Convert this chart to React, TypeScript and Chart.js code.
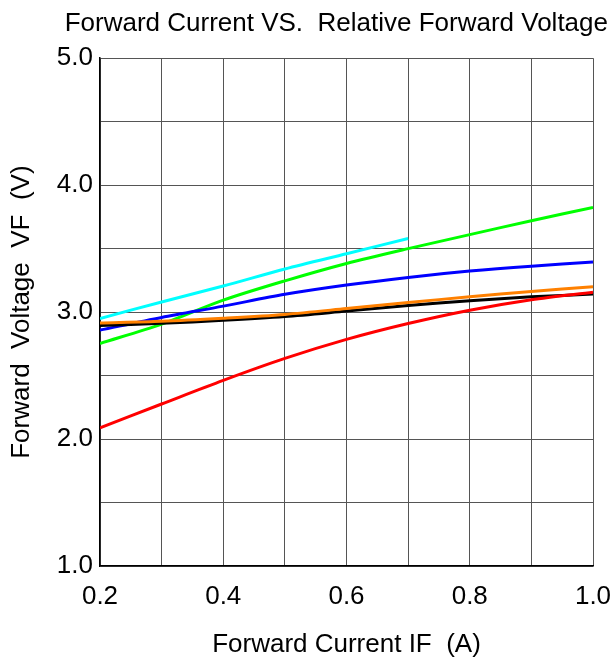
import React, { useEffect, useRef } from "react";
import { Chart, registerables } from "chart.js";

Chart.register(...registerables);

const currents = [0.2, 0.3, 0.4, 0.5, 0.6, 0.7, 0.8, 0.9, 1.0];
const cyanCurrents = [0.2, 0.3, 0.4, 0.5, 0.6, 0.7];

const orangeV = [2.915, 2.928, 2.952, 2.982, 3.028, 3.076, 3.12, 3.163, 3.2];
const redV = [2.089, 2.276, 2.462, 2.635, 2.785, 2.91, 3.015, 3.098, 3.157];
const blackV = [2.895, 2.912, 2.935, 2.965, 3.008, 3.052, 3.089, 3.12, 3.142];
const blueV = [2.858, 2.958, 3.047, 3.14, 3.213, 3.273, 3.323, 3.362, 3.394];
const greenV = [2.753, 2.905, 3.094, 3.246, 3.383, 3.5, 3.61, 3.72, 3.824];
const cyanV = [2.95, 3.08, 3.205, 3.34, 3.46, 3.58];

const xTickLabels = ["0.2", "0.4", "0.6", "0.8", "1.0"];
const yTickLabels = ["1.0", "2.0", "3.0", "4.0", "5.0"];

const FONT = "'Liberation Sans', Arial, Helvetica, sans-serif";

function pts(xs: number[], ys: number[]) {
  return ys.map((y, i) => ({ x: xs[i], y }));
}

export default function App() {
  const ref = useRef<HTMLCanvasElement | null>(null);
  useEffect(() => {
    document.body.style.margin = "0";
    if (!ref.current) return;
    const mk = (label: string, color: string, xs: number[], ys: number[]) => ({
      label,
      data: pts(xs, ys),
      borderColor: color,
      backgroundColor: color,
      borderWidth: 3,
      pointRadius: 0,
      tension: 0.3,
      fill: false,
    });
    const chart = new Chart(ref.current, {
      type: "line",
      data: {
        datasets: [
          mk("Orange", "#ff8000", currents, orangeV),
          mk("Red", "#ff0000", currents, redV),
          mk("Black", "#000000", currents, blackV),
          mk("Blue", "#0000ff", currents, blueV),
          mk("Green", "#00ff00", currents, greenV),
          mk("Cyan", "#00ffff", cyanCurrents, cyanV),
        ],
      },
      options: {
        animation: false,
        responsive: false,
        layout: { padding: { left: 0, right: 7, top: 0, bottom: 0 } },
        plugins: {
          legend: { display: false },
          tooltip: { enabled: false },
          title: {
            display: true,
            text: "Forward Current VS.  Relative Forward Voltage",
            align: "end",
            color: "#000",
            font: { family: FONT, size: 26, weight: "normal" },
            padding: { top: 8, bottom: 19 },
          },
        },
        scales: {
          x: {
            type: "linear",
            min: 0.2,
            max: 1.0,
            grid: { color: "#555", lineWidth: 1, drawTicks: false },
            border: { color: "#000", width: 1.5 },
            ticks: {
              stepSize: 0.1,
              autoSkip: false,
              maxRotation: 0,
              padding: 15,
              color: "#000",
              font: { family: FONT, size: 26 },
              callback: (v: any) => {
                const s = Number(v).toFixed(1);
                return xTickLabels.includes(s) ? s : "";
              },
            },
            title: {
              display: true,
              text: "Forward Current IF  (A)",
              color: "#000",
              font: { family: FONT, size: 26 },
              padding: { top: 0, bottom: 0 },
            },
            afterFit: (s: any) => {
              s.height = 94;
              s.paddingLeft = 0;
              s.paddingRight = 0;
            },
          },
          y: {
            type: "linear",
            min: 1,
            max: 5,
            grid: { color: "#555", lineWidth: 1, drawTicks: false },
            border: { color: "#000", width: 1.5 },
            ticks: {
              stepSize: 0.5,
              autoSkip: false,
              padding: 7,
              color: "#000",
              font: { family: FONT, size: 26 },
              callback: (v: any) => {
                const s = Number(v).toFixed(1);
                return yTickLabels.includes(s) ? s : "";
              },
            },
            title: {
              display: true,
              text: "Forward  Voltage  VF  (V)",
              color: "#000",
              font: { family: FONT, size: 26 },
              padding: { top: 6, bottom: 0 },
            },
            afterFit: (s: any) => {
              s.width = 100;
              s.paddingTop = 0;
              s.paddingBottom = 0;
            },
          },
          y2: {
            type: "linear",
            position: "right",
            display: true,
            grid: { display: false, drawTicks: false },
            border: { display: false },
            ticks: { display: false },
            afterFit: (s: any) => {
              s.width = 15;
              s.paddingTop = 0;
              s.paddingBottom = 0;
            },
          },
        },
      },
    });
    return () => chart.destroy();
  }, []);
  return (
    <div style={{ width: 615, height: 660 }}>
      <canvas ref={ref} width={615} height={660} />
    </div>
  );
}
